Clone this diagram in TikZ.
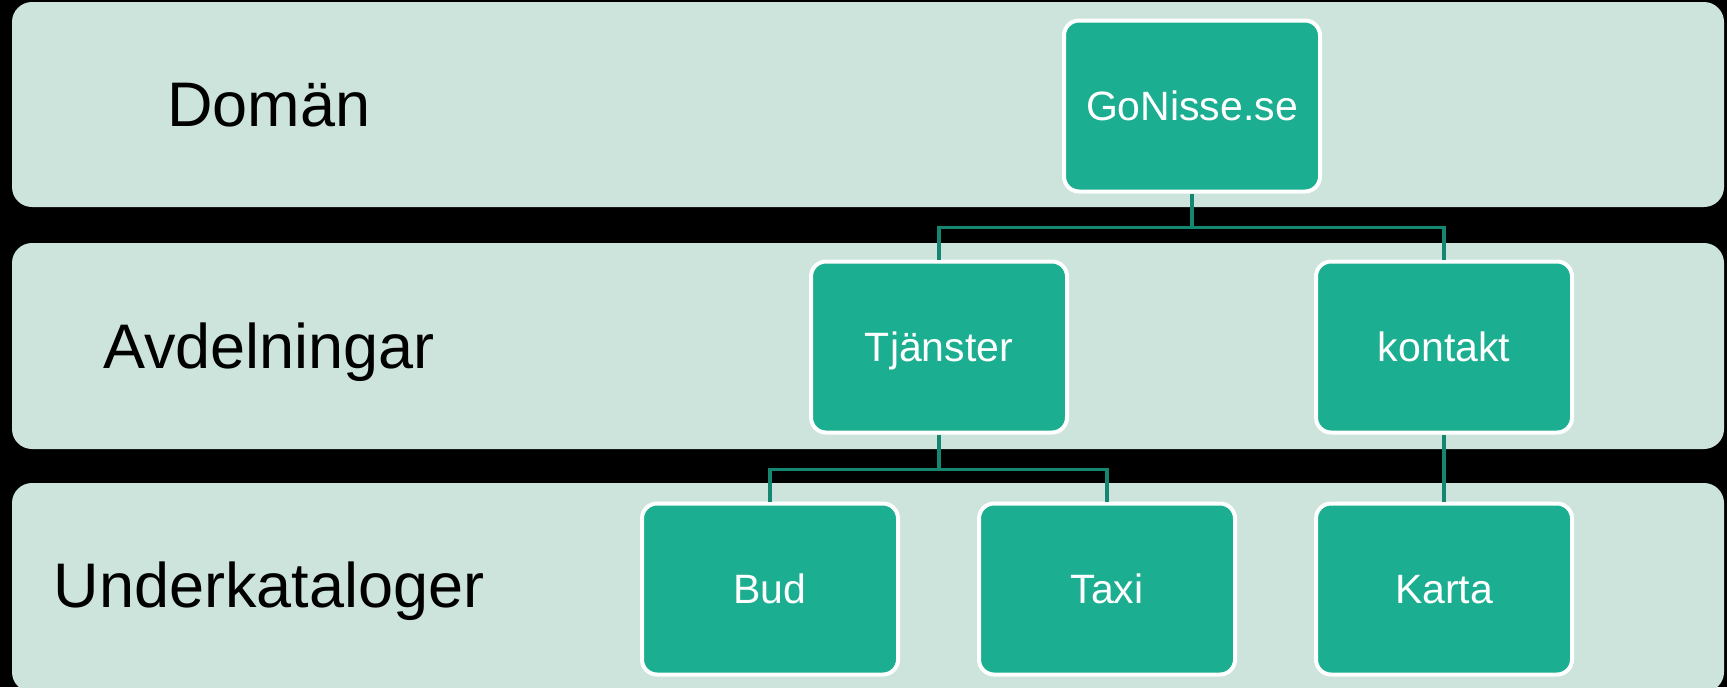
\documentclass[tikz,border=0pt]{standalone}
\usepackage{fontspec}
\setmainfont{Liberation Sans}
\usetikzlibrary{positioning}
\definecolor{bandgreen}{RGB}{205,228,220}
\definecolor{boxgreen}{RGB}{27,174,145}
\definecolor{linegreen}{RGB}{20,135,112}
\tikzset{
	band/.style={fill=bandgreen, rounded corners=10pt},
	level/.style={anchor=base, font=\fontsize{31.5}{36}\selectfont},
	page/.style={draw=white, line width=2pt, fill=boxgreen, rounded corners=7.5pt,
		minimum width=128pt, minimum height=85.5pt, inner sep=0pt, text depth=0pt,
		text=white, font=\fontsize{20.5}{24}\selectfont},
	link/.style={draw=linegreen, line width=1.8pt}
}

\begin{document}
\begin{tikzpicture}[x=0.5pt, y=-0.5pt]
\clip (0,0) rectangle (1727,687);
\fill[black] (0,0) rectangle (1727,687);

\fill[band] (12,2) rectangle (1724,207);
\fill[band] (12,243) rectangle (1724,449);
\fill[band] (12,483) rectangle (1724,692);

\node[level] (doman) at (269,126) {Domän};
\node[level] (avd) at (269,368) {Avdelningar};
\node[level] (under) at (269,607) {Underkataloger};

\node[page] (root) at (1192,106) {GoNisse.se};
\node[page] (tjanster) at (939,347) {Tjänster};
\node[page] (kontakt) at (1444,347) {kontakt};
\node[page] (bud) at (770,589) {Bud};
\node[page] (taxi) at (1107,589) {Taxi};
\node[page] (karta) at (1444,589) {Karta};

\draw[link] (root.south) -- ++(0,34) -| (tjanster.north);
\draw[link] (root.south) -- ++(0,34) -| (kontakt.north);
\draw[link] (tjanster.south) -- ++(0,35) -| (bud.north);
\draw[link] (tjanster.south) -- ++(0,35) -| (taxi.north);
\draw[link] (kontakt.south) -- (karta.north);
\end{tikzpicture}
\end{document}
